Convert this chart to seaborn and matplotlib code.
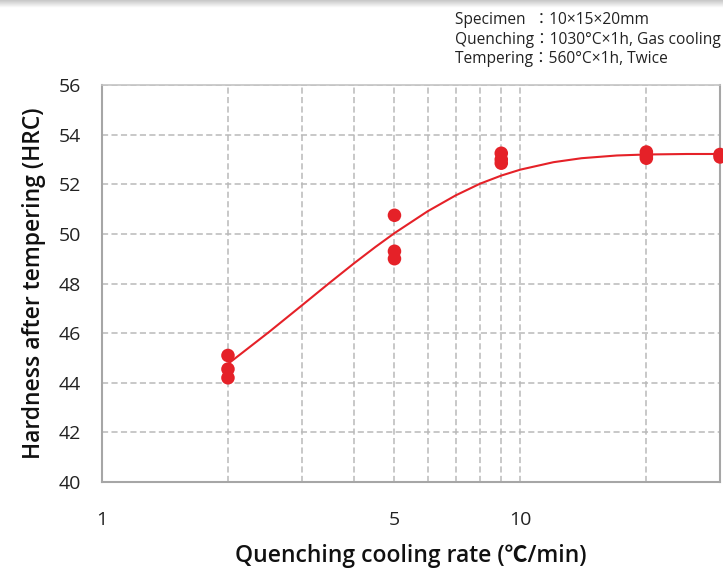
import numpy as np
import pandas as pd
import matplotlib
matplotlib.use("Agg")
import matplotlib.pyplot as plt
import seaborn as sns

# Measured hardness after tempering for each quenching cooling rate
cooling_rate = [2, 2, 2, 5, 5, 5, 9, 9, 9, 20, 20, 20, 30, 30]
hardness = [45.1, 44.55, 44.2, 50.75, 49.3, 49.0, 53.25, 53.0, 52.85,
            53.3, 53.15, 53.05, 53.2, 53.1]

# Trend curve through the measurements
trend_rate = [2, 2.5, 3, 3.5, 4, 4.5, 5, 6, 7, 8, 9, 10, 12, 14, 17, 20, 25, 30]
trend_hrc = [44.76, 46.03, 47.11, 48.03, 48.81, 49.47, 50.03, 50.91, 51.55,
             52.02, 52.35, 52.59, 52.89, 53.05, 53.16, 53.20, 53.22, 53.22]

x_ticks = [1, 2, 3, 4, 5, 6, 7, 8, 9, 10, 20, 30]
x_tick_labels = ["1", "", "", "", "5", "", "", "", "", "10", "", ""]
y_ticks = [40, 42, 44, 46, 48, 50, 52, 54, 56]

conditions = [
    "Specimen  ：10×15×20mm",
    "Quenching：1030°C×1h, Gas cooling",
    "Tempering：560°C×1h, Twice",
]

sns.set_style("white")
plt.rcParams["font.family"] = ["Open Sans", "Noto Sans CJK JP", "DejaVu Sans"]

points = pd.DataFrame({"rate": cooling_rate, "hrc": hardness})
trend = pd.DataFrame({"rate": trend_rate, "hrc": trend_hrc})

red = "#e52128"
spine_grey = "#a6a6a6"
grid_grey = "#b9b9b9"

fig = plt.figure(figsize=(7.23, 5.76), dpi=100)
ax = fig.add_axes([0.1411, 0.1632, 0.9959 - 0.1411, 0.8524 - 0.1632])

ax.set_xscale("log")
ax.set_xlim(1, 30)
ax.set_ylim(40, 56)

sns.lineplot(data=trend, x="rate", y="hrc", ax=ax, color=red, linewidth=1.5,
             zorder=3)
sns.scatterplot(data=points, x="rate", y="hrc", ax=ax, color=red, s=95,
                edgecolor="none", zorder=4, clip_on=False)

ax.set_xticks(x_ticks)
ax.set_xticklabels(x_tick_labels)
ax.xaxis.set_minor_locator(matplotlib.ticker.NullLocator())
ax.set_yticks(y_ticks)

ax.grid(True, which="major", color=grid_grey, linestyle=(0, (4, 2.2)),
        linewidth=1.1)
ax.set_axisbelow(True)

ax.tick_params(axis="both", length=0, labelsize=14, colors="#222222")
ax.tick_params(axis="y", pad=15)
ax.tick_params(axis="x", pad=21)

for side in ["left", "bottom", "right"]:
    ax.spines[side].set_color(spine_grey)
    ax.spines[side].set_linewidth(1.5)
ax.spines["top"].set_color("#c4c4c4")
ax.spines["top"].set_linewidth(1.2)

ax.set_xlabel("Quenching cooling rate (℃/min)", fontsize=16.5,
              fontweight="semibold", color="#111111", labelpad=11)
ax.set_ylabel("Hardness after tempering (HRC)", fontsize=16.5,
              fontweight="semibold", color="#111111", labelpad=9)

for i, line in enumerate(conditions):
    fig.text(455 / 723, 1 - (20 + 19.5 * i) / 576, line, fontsize=11.2,
             color="#222222", ha="left", va="center")

# Soft shadow band along the upper edge
shade = fig.add_axes([0, 1 - 8 / 576, 1, 8 / 576])
band = np.linspace(0.78, 1.0, 16).reshape(-1, 1)
shade.imshow(band, aspect="auto", cmap="gray", vmin=0, vmax=1,
             extent=[0, 1, 0, 1])
shade.set_axis_off()

fig.savefig("out.png", dpi=100)
